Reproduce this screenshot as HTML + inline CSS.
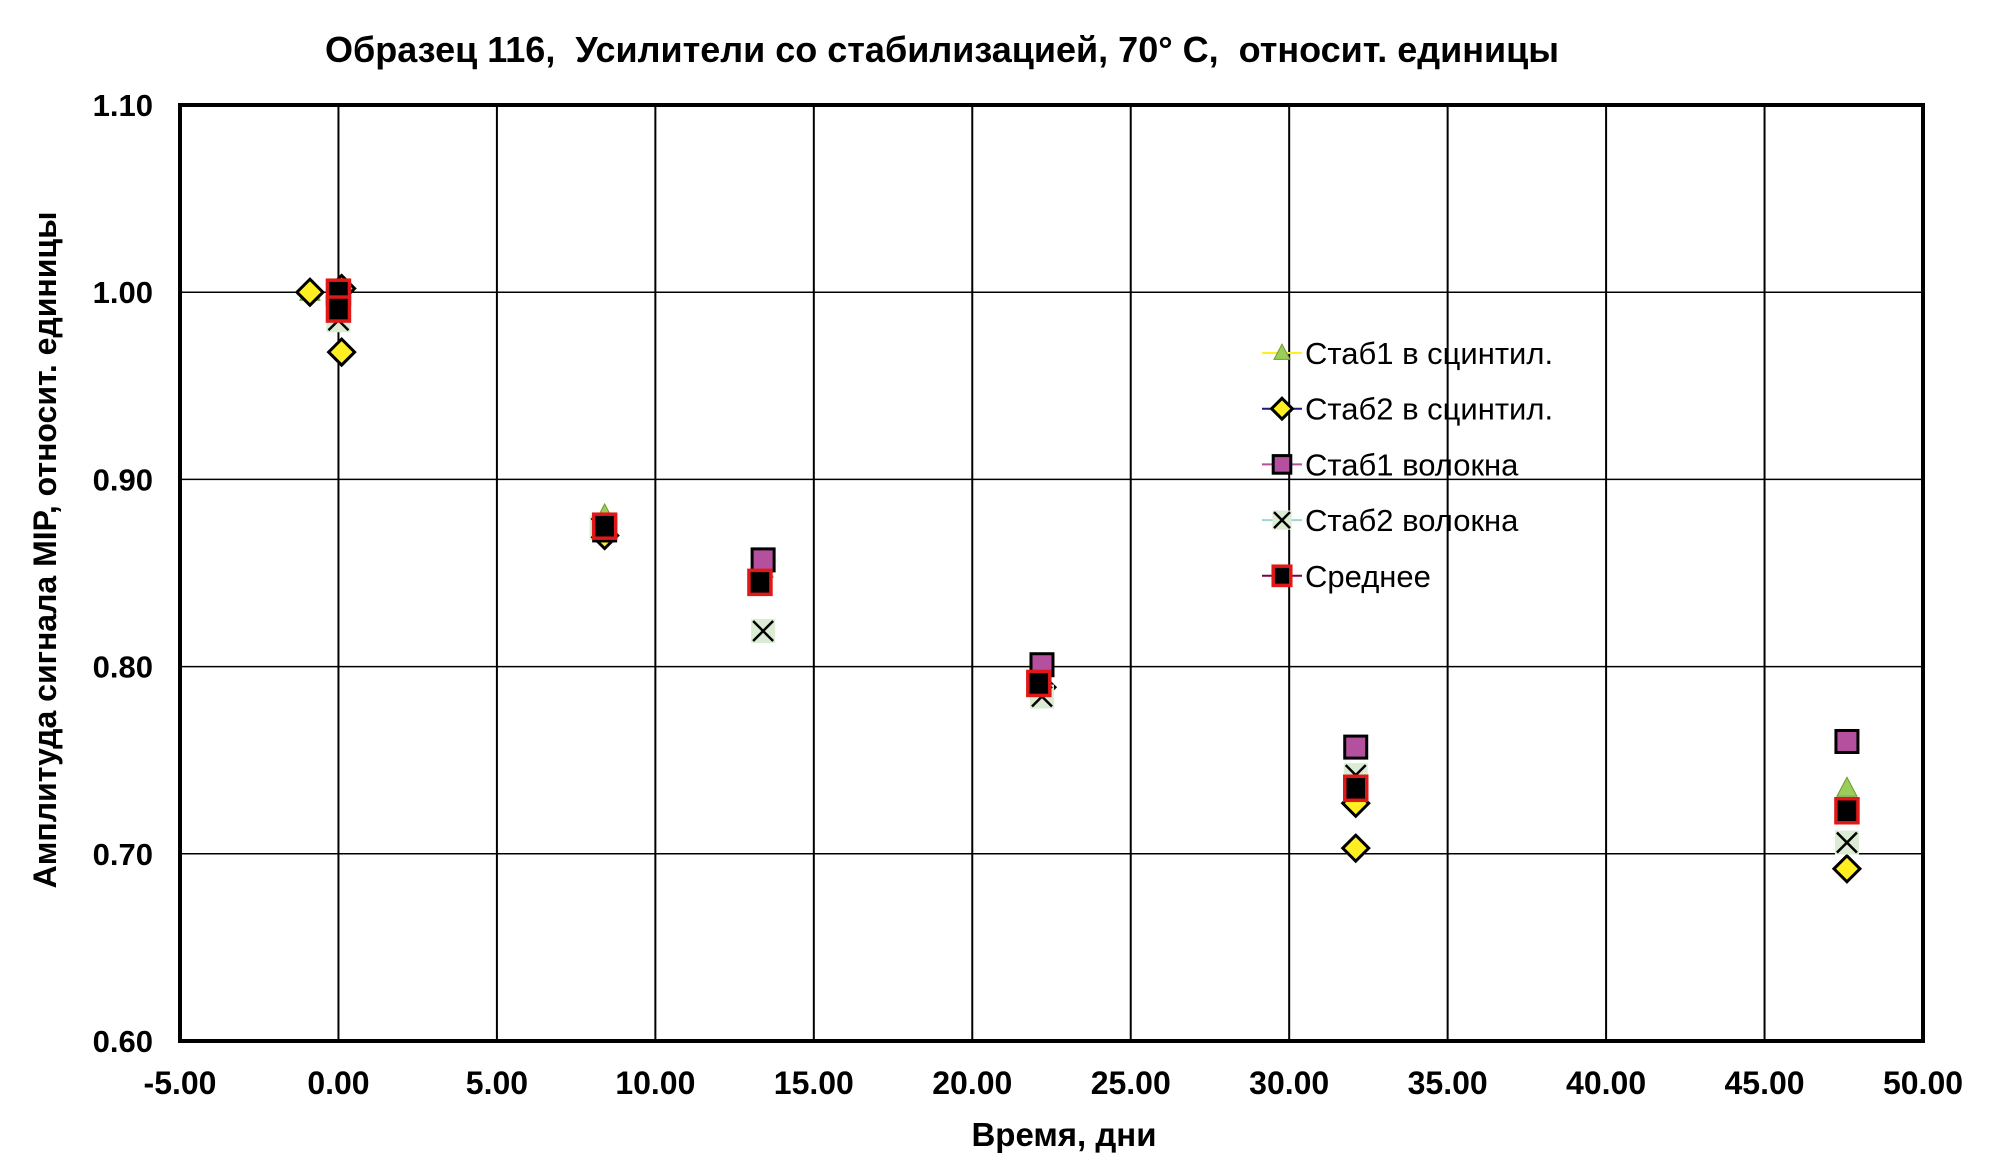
<!DOCTYPE html>
<html><head><meta charset="utf-8"><style>
body{margin:0;background:#fff;}
svg{display:block;font-family:"Liberation Sans",Arial,sans-serif;}
</style></head><body>
<svg id="chart" width="2008" height="1163" viewBox="0 0 2008 1163">
<text x="942" y="62" text-anchor="middle" font-size="36" font-weight="bold" xml:space="preserve">Образец 116,  Усилители со стабилизацией, 70° С,  относит. единицы</text>
<g id="grid"></g>
<rect x="180" y="105" width="1743" height="936" fill="none" stroke="#000" stroke-width="4"/>
<g id="ticks"></g>
<g id="marks"></g>
<text transform="translate(56,550) rotate(-90)" text-anchor="middle" font-size="32" font-weight="bold">Амплитуда сигнала MIP, относит. единицы</text>
<text x="1064" y="1146" text-anchor="middle" font-size="33" font-weight="bold">Время, дни</text>
<g id="legend"></g>
</svg>
<script>
const xTicks=[-5,0,5,10,15,20,25,30,35,40,45,50];
const yTicks=[0.6,0.7,0.8,0.9,1.0,1.1];
const seriesNames=["Стаб1 в сцинтил.","Стаб2 в сцинтил.","Стаб1 волокна","Стаб2 волокна","Среднее"];
const s1x=[-0.9,8.4,13.4,22.2,32.1,47.6];
const s1y=[1.0,0.881,0.852,0.783,0.730,0.735];
const s2x=[-0.9,0.1,0.1,8.4,22.2,32.1,32.1,47.6];
const s2y=[1.0,1.002,0.968,0.870,0.789,0.727,0.703,0.692];
const s3x=[0.0,8.4,13.4,22.2,32.1,47.6];
const s3y=[1.0,0.873,0.857,0.801,0.757,0.760];
const s4x=[0.0,8.3,13.4,22.2,32.1,47.6];
const s4y=[0.985,0.874,0.819,0.784,0.742,0.706];
const s5x=[0.0,0.0,8.4,13.3,22.1,32.1,47.6];
const s5y=[1.0,0.991,0.875,0.845,0.791,0.735,0.723];
const X0=180,X1=1923,Y0=1041,Y1=105;
function xs(v){return X0+(v+5)/55*(X1-X0);}
function ys(v){return Y0-(v-0.6)/0.5*(Y0-Y1);}
const NS="http://www.w3.org/2000/svg";
function mk(tag,attrs,parent){const e=document.createElementNS(NS,tag);for(const k in attrs)e.setAttribute(k,attrs[k]);parent.appendChild(e);return e;}
const grid=document.getElementById('grid'),ticks=document.getElementById('ticks'),marks=document.getElementById('marks'),legend=document.getElementById('legend');
xTicks.forEach(t=>{
  if(t>-5&&t<50){const l=mk('line',{x1:xs(t),x2:xs(t),y1:Y1,y2:Y0,stroke:'#000','stroke-width':2},grid);
  
  }
  const tx=mk('text',{x:xs(t),y:1094,'text-anchor':'middle','font-size':32,'font-weight':'bold'},ticks);
  tx.textContent=t.toFixed(2);
  
  
});
yTicks.forEach(t=>{
  if(t>0.6&&t<1.1){const l=mk('line',{x1:X0,x2:X1,y1:ys(t),y2:ys(t),stroke:'#000','stroke-width':1.5},grid);
  
  }
  const tx=mk('text',{x:153,y:ys(t)+11,'text-anchor':'end','font-size':31,'font-weight':'bold'},ticks);
  tx.textContent=t.toFixed(2);
  
  
});
function marker(type,cx,cy,parent,scale){
  const s=scale||1;let e;
  if(type===0){e=mk('polygon',{points:`${cx},${cy-11*s} ${cx+10*s},${cy+8*s} ${cx-10*s},${cy+8*s}`,fill:'#9acd59',stroke:'#6a9a30','stroke-width':1},parent);}
  else if(type===1){e=mk('polygon',{points:`${cx},${cy-13*s} ${cx+13*s},${cy} ${cx},${cy+13*s} ${cx-13*s},${cy}`,fill:'#ffee22',stroke:'#000','stroke-width':3},parent);}
  else if(type===2){e=mk('rect',{x:cx-11*s,y:cy-11*s,width:22*s,height:22*s,fill:'#b5509f',stroke:'#000','stroke-width':3},parent);}
  else if(type===3){e=mk('g',{},parent);mk('rect',{x:cx-12*s,y:cy-12*s,width:24*s,height:24*s,fill:'#dcebd4'},e);
    mk('path',{d:`M${cx-10*s},${cy-10*s}L${cx+10*s},${cy+10*s}M${cx+10*s},${cy-10*s}L${cx-10*s},${cy+10*s}`,stroke:'#000','stroke-width':2.5},e);}
  else {e=mk('rect',{x:cx-11*s,y:cy-12*s,width:22*s,height:24*s,fill:'#000',stroke:'#e01818','stroke-width':3.5},parent);}
  return e;
}
const allX=[s1x,s2x,s3x,s4x,s5x],allY=[s1y,s2y,s3y,s4y,s5y];
const order=[0,1,3,2,4];
order.forEach(si=>{
  allX[si].forEach((xv,i)=>{
    const m=marker(si,xs(xv),ys(allY[si][i]),marks);
    
    
  });
});
const lineCols=['#ffee22','#1a1a80','#b5509f','#9ad8d0','#800040'];
seriesNames.forEach((n,i)=>{
  const y=353+i*55.7;
  const g=mk('g',{},legend);
  
  
  mk('line',{x1:1262,x2:1302,y1:y,y2:y,stroke:lineCols[i],'stroke-width':2},g);
  marker(i,1282,y,g,0.8);
  const t=mk('text',{x:1305,y:y+11,'font-size':31},g);
  t.textContent=n;
});
</script>
</body></html>
